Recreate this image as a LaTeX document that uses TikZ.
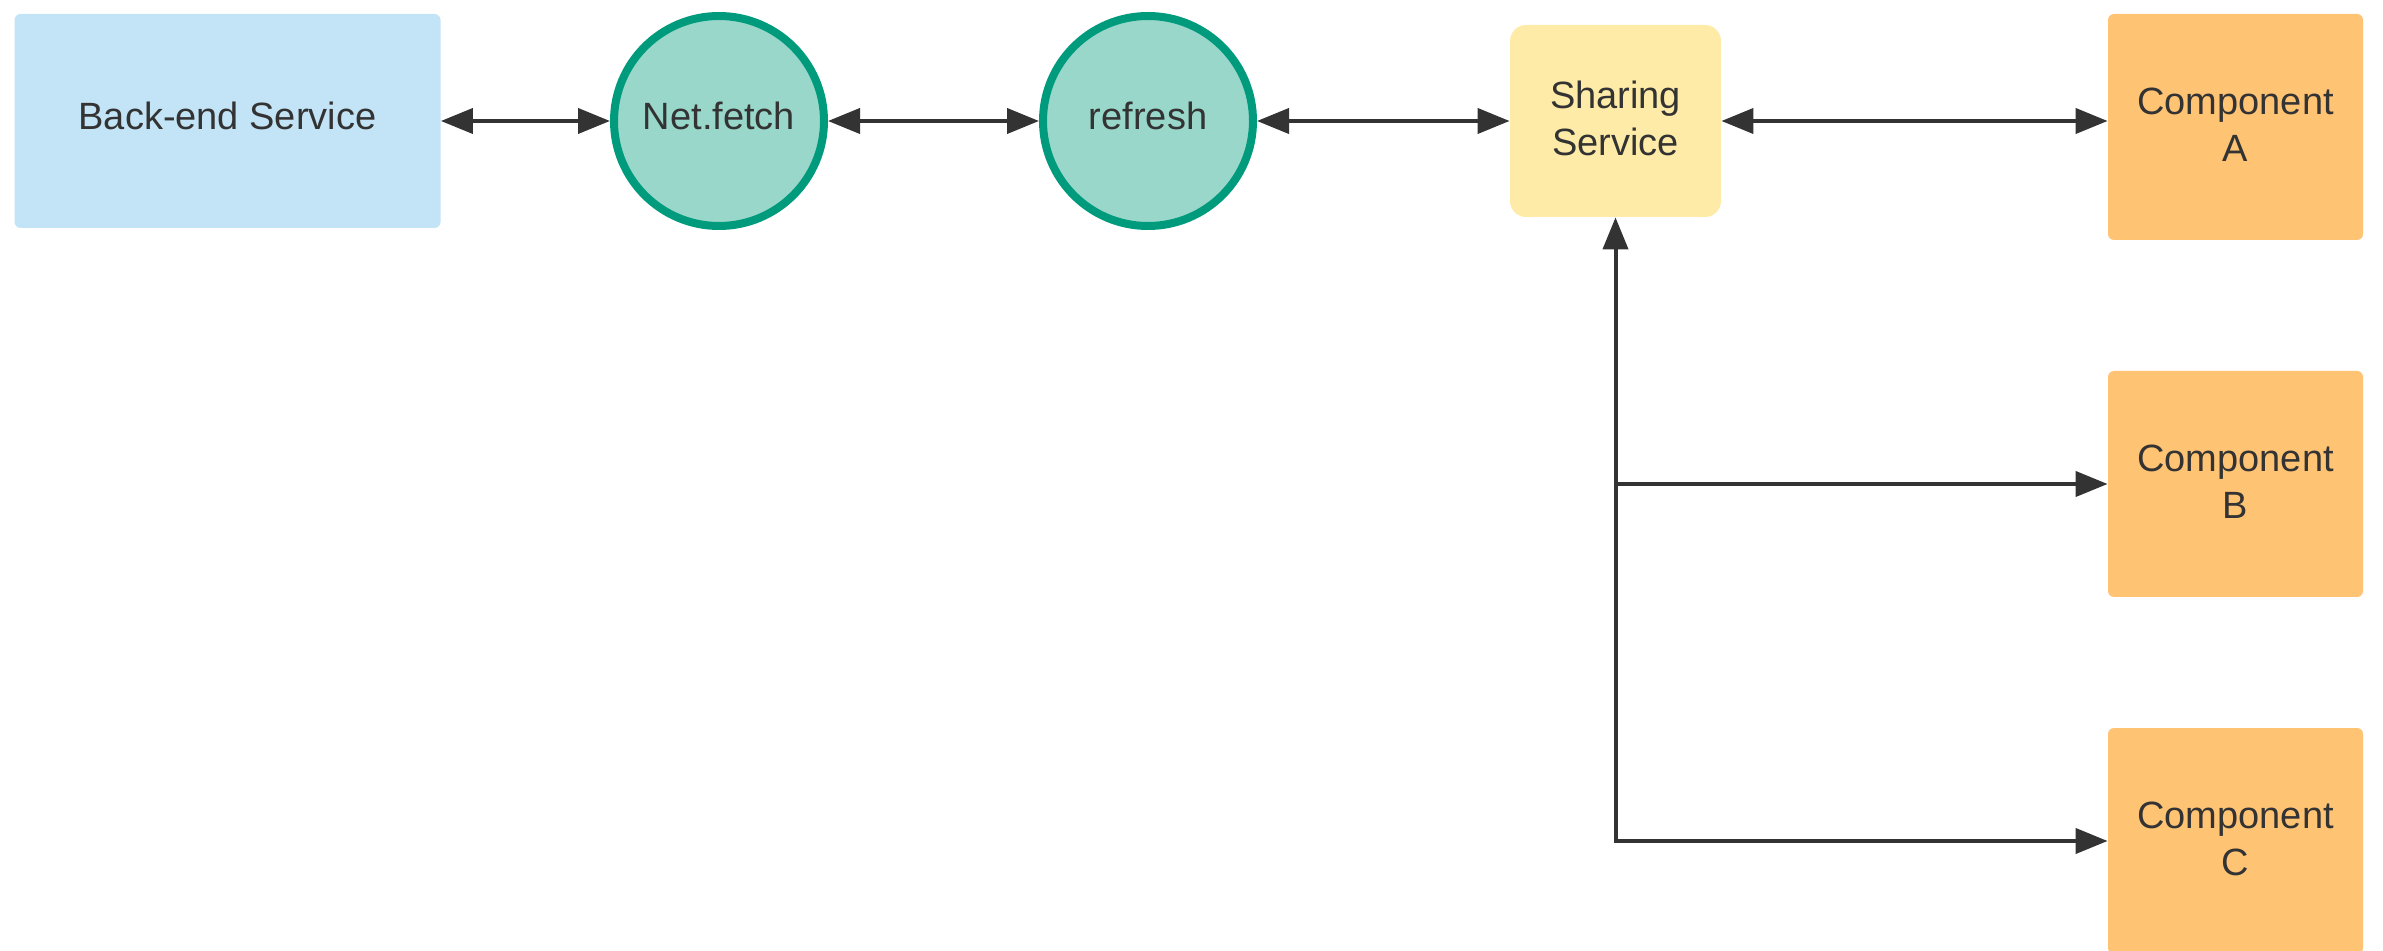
\documentclass[tikz,border=0pt]{standalone}
\usepackage{fontspec}
\setmainfont{Liberation Sans}
\usetikzlibrary{arrows.meta}

\definecolor{inkgray}{HTML}{333333}
\definecolor{skyfill}{HTML}{C2E4F6}
\definecolor{mintfill}{HTML}{98D7C9}
\definecolor{tealring}{HTML}{009B7D}
\definecolor{creamfill}{HTML}{FFEBA8}
\definecolor{orangefill}{HTML}{FFC374}

\tikzset{
  label text/.style={text=inkgray, align=center,
    font=\fontsize{19}{23.5}\selectfont,
    text height=14pt, text depth=5pt},
  % two-line labels: box height grows by one baseline skip
  twoline/.style={text height=39.5pt},
  servicebox/.style={label text, rectangle, rounded corners=3pt,
    fill=skyfill, minimum width=213pt, minimum height=107pt},
  stagecircle/.style={label text, circle, fill=mintfill, draw=tealring,
    line width=4pt, minimum size=105pt, inner sep=0pt},
  sharebox/.style={label text, twoline, rectangle, rounded corners=8pt,
    fill=creamfill, minimum width=105.5pt, minimum height=96pt},
  compbox/.style={label text, twoline, rectangle, rounded corners=3pt,
    fill=orangefill, minimum width=127.5pt, minimum height=113pt},
  link/.style={draw=inkgray, line width=2pt,
    arrows={Triangle[length=16pt,width=12.5pt]-Triangle[length=16pt,width=12.5pt]}},
  feed/.style={draw=inkgray, line width=2pt,
    -{Triangle[length=16pt,width=12.5pt]}},
}

\begin{document}
\begin{tikzpicture}[x=0.5pt, y=-0.5pt]
  \useasboundingbox (0,0) rectangle (2383,951);
  \clip (0,0) rectangle (2383,951);

  % data path along the top row
  \node[servicebox] (backend) at (227.5,121) {Back-end Service};
  \node[stagecircle] (netfetch) at (719,121) {Net.fetch};
  \node[stagecircle] (refresh) at (1148,121) {refresh};
  \node[sharebox] (sharing) at (1615.5,121) {Sharing\\Service};

  % consumers on the right
  \node[compbox] (compA) at (2235.5,127) {Component\\A};
  \node[compbox] (compB) at (2235.5,484) {Component\\B};
  \node[compbox] (compC) at (2235.5,841) {Component\\C};

  \draw[link] (backend.east) -- (netfetch.west);
  \draw[link] (netfetch.east) -- (refresh.west);
  \draw[link] (refresh.east) -- (sharing.west);
  \draw[link] (sharing.east) -- (sharing.east -| compA.west);

  % shared trunk feeding components B and C
  \draw[link] (sharing.south) |- (compC.west);
  \coordinate (branchB) at (sharing.south |- compB.west);
  \draw[feed] (branchB) -- (compB.west);
\end{tikzpicture}
\end{document}
